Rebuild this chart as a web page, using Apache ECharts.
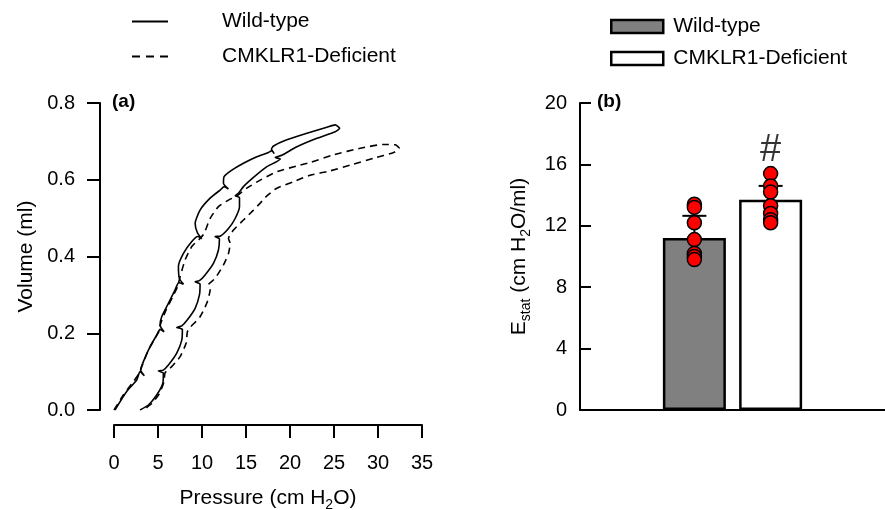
<!DOCTYPE html>
<html>
<head>
<meta charset="utf-8">
<script src="https://cdn.jsdelivr.net/npm/echarts@6/dist/echarts.min.js"></script>
<style>
  html, body { margin: 0; padding: 0; background: #fff; }
  #chart { width: 885px; height: 510px; }
</style>
</head>
<body>
<div id="chart"></div>
<script>
// (a) stepwise pressure-volume loops: [pressure cmH2O, volume ml]
const wtLoop = [
  [0.11, 0.000], [1.44, 0.048], [2.58, 0.078], [2.96, 0.100], [3.45, 0.089], [3.03, 0.104],
  [3.34, 0.126], [4.10, 0.165], [4.85, 0.195], [5.23, 0.210], [5.69, 0.204], [5.23, 0.221],
  [5.42, 0.243], [6.18, 0.278], [6.94, 0.313], [7.36, 0.332], [7.89, 0.328], [7.43, 0.343],
  [7.32, 0.374], [7.89, 0.408], [8.84, 0.439], [9.52, 0.452], [9.97, 0.446], [9.48, 0.462],
  [9.22, 0.486], [9.78, 0.521], [10.92, 0.552], [12.06, 0.573], [12.51, 0.582], [13.00, 0.576], [12.44, 0.591],
  [12.51, 0.608], [13.39, 0.625], [14.71, 0.643], [16.23, 0.660], [17.56, 0.671], [17.94, 0.676], [18.20, 0.668], [17.90, 0.680],
  [18.13, 0.688], [19.64, 0.704], [21.92, 0.721], [24.19, 0.737], [25.14, 0.743], [25.64, 0.734],
  [25.14, 0.725], [23.06, 0.708], [20.78, 0.686], [19.07, 0.664], [18.32, 0.658], [18.90, 0.654],
  [17.37, 0.634], [15.85, 0.606], [14.71, 0.582], [14.14, 0.565], [13.77, 0.558], [14.26, 0.554],
  [14.26, 0.530], [13.77, 0.499], [13.01, 0.473], [12.06, 0.453], [11.49, 0.452], [11.98, 0.446],
  [11.87, 0.417], [11.30, 0.382], [10.35, 0.352], [9.71, 0.337], [9.22, 0.334], [9.78, 0.328],
  [9.71, 0.300], [9.22, 0.265], [8.34, 0.235], [7.70, 0.219], [7.13, 0.215], [7.77, 0.210],
  [7.70, 0.182], [7.13, 0.148], [6.18, 0.117], [5.61, 0.104], [5.04, 0.102], [5.61, 0.096],
  [5.54, 0.069], [4.85, 0.039], [3.91, 0.013], [2.96, 0.000]
]
const koLoop = [
  [0.00, 0.000], [1.06, 0.039], [2.20, 0.074], [2.88, 0.096], [3.15, 0.113], [3.91, 0.156],
  [4.66, 0.187], [5.16, 0.207], [5.31, 0.226], [5.92, 0.261], [6.67, 0.295], [7.21, 0.321],
  [7.51, 0.347], [8.08, 0.391], [8.84, 0.426], [9.78, 0.447], [10.24, 0.460], [10.92, 0.499],
  [11.87, 0.530], [13.01, 0.547], [13.96, 0.558], [15.09, 0.578], [16.61, 0.599], [18.51, 0.621],
  [21.16, 0.638], [22.30, 0.645], [24.95, 0.665], [27.99, 0.682], [30.64, 0.692], [31.97, 0.691],
  [32.42, 0.682], [31.78, 0.671], [29.50, 0.656], [26.85, 0.638], [24.19, 0.621], [22.30, 0.612],
  [20.40, 0.595], [18.51, 0.578], [17.37, 0.558], [16.61, 0.539], [15.85, 0.521], [14.71, 0.495],
  [13.58, 0.469], [13.01, 0.447], [13.20, 0.434], [13.01, 0.408], [12.44, 0.378], [11.49, 0.343],
  [10.73, 0.326], [10.92, 0.313], [10.54, 0.278], [9.78, 0.243], [8.65, 0.215], [8.34, 0.204],
  [8.19, 0.174], [7.51, 0.139], [6.56, 0.113], [5.80, 0.097], [5.69, 0.074], [5.16, 0.043],
  [4.29, 0.017], [3.34, 0.000]
]

// (b) static elastance
const groups = ['Wild-type', 'CMKLR1-Deficient']
const groupPos = [1.5, 2.5]
const estatMean = [11.2, 13.7]
const estatSem = [1.45, 0.9]
const wtDots = [13.4, 13.2, 12.2, 11.1, 10.2, 10.0, 9.8]
const koDots = [15.4, 14.6, 14.2, 13.3, 12.8, 12.4, 12.2]
const sigMark = 16.9

const FONT = 'Liberation Sans, Arial, sans-serif'
const txt = { color: '#000', fontFamily: FONT, fontSize: 21 }
const tickTxt = { color: '#000', fontFamily: FONT, fontSize: 20 }
const subRich = {
  n: Object.assign({}, txt, { lineHeight: 28, verticalAlign: 'middle' }),
  s: Object.assign({}, txt, { fontSize: 14, lineHeight: 10, verticalAlign: 'bottom' })
}

const chart = echarts.init(document.getElementById('chart'), null, { renderer: 'canvas' })

const errData = groupPos.map((x, i) => [x, estatMean[i], estatMean[i] + estatSem[i]])

chart.setOption({
  backgroundColor: '#fff',
  animation: false,
  textStyle: { fontFamily: FONT },
  legend: [
    {
      orient: 'vertical', left: 127, top: 6, itemWidth: 36, itemHeight: 2, itemGap: 14,
      data: [
        { name: groups[0], icon: 'rect' },
        { name: groups[1], icon: 'path://M0,0h8v2h-8z M14,0h8v2h-8z M28,0h8v2h-8z' }
      ],
      itemStyle: { color: '#000', borderWidth: 0 },
      textStyle: Object.assign({}, txt, { padding: [0, 0, 0, 49] })
    },
    {
      orient: 'vertical', left: 605, top: 11, itemWidth: 52, itemHeight: 13, itemGap: 11,
      icon: 'rect',
      data: ['WT bar', 'KO bar'],
      formatter: n => n === 'WT bar' ? groups[0] : groups[1],
      itemStyle: { borderColor: '#000', borderWidth: 2.5 },
      textStyle: Object.assign({}, txt, { padding: [0, 0, 0, 5] })
    }
  ],
  grid: [
    { left: 114, top: 103, width: 308, height: 307, outerBoundsMode: 'none' },
    { left: 580, top: 103, width: 305, height: 307, outerBoundsMode: 'none' }
  ],
  xAxis: [
    {
      gridIndex: 0, type: 'value', min: 0, max: 35, interval: 5, offset: 15,
      splitLine: { show: false },
      axisLine: { onZero: false, lineStyle: { color: '#000', width: 2 } },
      axisTick: { length: 13, lineStyle: { color: '#000', width: 2 } },
      axisLabel: Object.assign({}, tickTxt, { margin: 28 }),
      name: '{n|Pressure (cm H}{s|2}{n|O)}', nameLocation: 'middle', nameGap: 59,
      nameTextStyle: { rich: subRich }
    },
    {
      gridIndex: 1, type: 'value', min: 0, max: 4,
      splitLine: { show: false },
      axisLine: { onZero: false, lineStyle: { color: '#000', width: 2 } },
      axisTick: { show: false },
      axisLabel: { show: false }
    }
  ],
  yAxis: [
    {
      gridIndex: 0, type: 'value', min: 0, max: 0.8, interval: 0.2, offset: 14,
      splitLine: { show: false },
      axisLine: { show: true, onZero: false, lineStyle: { color: '#000', width: 2 } },
      axisTick: { show: true, length: 13, lineStyle: { color: '#000', width: 2 } },
      axisLabel: Object.assign({}, tickTxt, { margin: 25, formatter: v => v.toFixed(1) }),
      name: 'Volume (ml)', nameLocation: 'middle', nameGap: 63,
      nameTextStyle: txt
    },
    {
      gridIndex: 1, type: 'value', min: 0, max: 20, interval: 4,
      splitLine: { show: false },
      axisLine: { show: true, onZero: false, lineStyle: { color: '#000', width: 2 } },
      axisTick: { show: true, inside: true, length: 11, lineStyle: { color: '#000', width: 2 } },
      axisLabel: Object.assign({}, tickTxt, { margin: 13 }),
      name: '{n|E}{s|stat}{n| (cm H}{s|2}{n|O/ml)}', nameLocation: 'middle', nameGap: 47,
      nameTextStyle: { rich: subRich }
    }
  ],
  graphic: [
    { type: 'text', left: 112, top: 92, style: { text: '(a)', font: 'bold 19px ' + FONT, fill: '#000' } },
    { type: 'text', left: 597, top: 92, style: { text: '(b)', font: 'bold 19px ' + FONT, fill: '#000' } }
  ],
  series: [
    {
      name: groups[0], type: 'line', xAxisIndex: 0, yAxisIndex: 0,
      data: wtLoop, showSymbol: false, symbol: 'none', smooth: 0.2,
      lineStyle: { color: '#000', width: 1.6, type: 'solid' },
      itemStyle: { color: '#000' }
    },
    {
      name: groups[1], type: 'line', xAxisIndex: 0, yAxisIndex: 0,
      data: koLoop, showSymbol: false, symbol: 'none', smooth: 0.2,
      lineStyle: { color: '#000', width: 1.6, type: [7, 5] },
      itemStyle: { color: '#000' }
    },
    {
      name: 'WT bar', type: 'bar', xAxisIndex: 1, yAxisIndex: 1,
      data: [[groupPos[0], estatMean[0]]], barWidth: 63, barGap: '-100%',
      itemStyle: { color: '#808080', borderColor: '#000', borderWidth: 2.5 }
    },
    {
      name: 'KO bar', type: 'bar', xAxisIndex: 1, yAxisIndex: 1,
      data: [[groupPos[1], estatMean[1]]], barWidth: 63, barGap: '-100%',
      itemStyle: { color: '#fff', borderColor: '#000', borderWidth: 2.5 }
    },
    {
      type: 'custom', xAxisIndex: 1, yAxisIndex: 1, z: 3,
      data: errData,
      renderItem: (params, api) => {
        const base = api.coord([api.value(0), api.value(1)])
        const top = api.coord([api.value(0), api.value(2)])
        const st = { stroke: '#000', lineWidth: 2 }
        return { type: 'group', children: [
          { type: 'line', shape: { x1: base[0], y1: base[1], x2: top[0], y2: top[1] }, style: st },
          { type: 'line', shape: { x1: top[0] - 12, y1: top[1], x2: top[0] + 12, y2: top[1] }, style: st }
        ] }
      }
    },
    {
      type: 'scatter', xAxisIndex: 1, yAxisIndex: 1, z: 5,
      data: wtDots.map(v => [groupPos[0], v]).concat(koDots.map(v => [groupPos[1], v])),
      symbolSize: 14,
      itemStyle: { color: '#ff0000', borderColor: '#000', borderWidth: 1.5, opacity: 1 }
    },
    {
      type: 'scatter', xAxisIndex: 1, yAxisIndex: 1, z: 6,
      data: [[groupPos[1], sigMark]], symbolSize: 2, itemStyle: { color: 'rgba(0,0,0,0)' },
      label: { show: true, position: 'inside', formatter: '#', color: '#000', fontFamily: FONT, fontSize: 38 }
    }
  ]
})
</script>
</body>
</html>
